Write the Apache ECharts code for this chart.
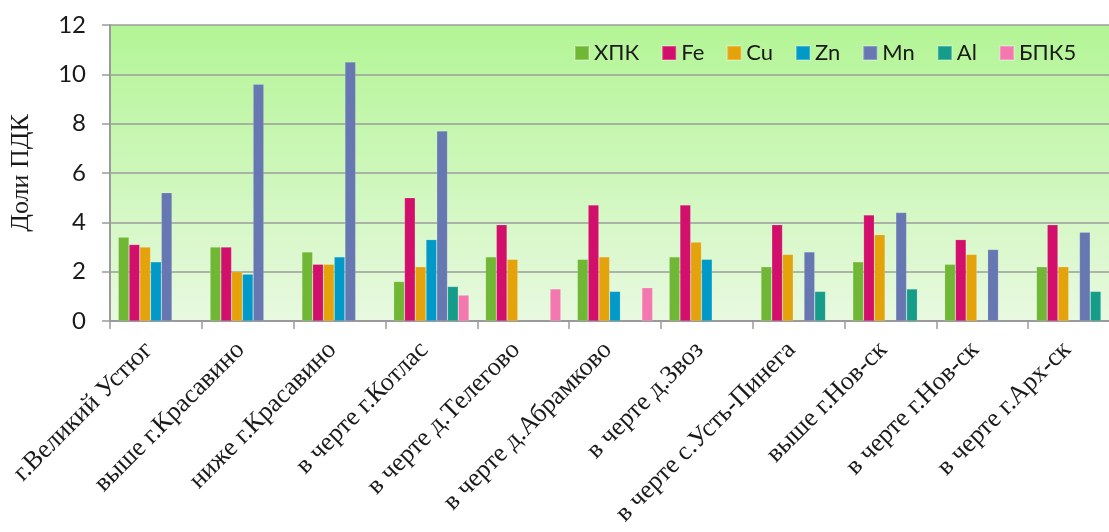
<!DOCTYPE html>
<html>
<head>
<meta charset="utf-8">
<script src="https://cdn.jsdelivr.net/npm/echarts@6/dist/echarts.min.js"></script>
<style>
  html, body { margin: 0; padding: 0; background: #ffffff; overflow: hidden; }
  body { width: 1109px; height: 532px; }
  /* the plot runs a little past the right edge of the page */
  #chart { width: 1130px; height: 532px; }
</style>
</head>
<body>
<div id="chart"></div>
<script>
// Sampling points along the river
const categories = [
  'г.Великий Устюг', 'выше г.Красавино', 'ниже г.Красавино', 'в черте г.Котлас',
  'в черте д.Телегово', 'в черте д.Абрамково', 'в черте д.Звоз', 'в черте с.Усть-Пинега',
  'выше г.Нов-ск', 'в черте г.Нов-ск', 'в черте г.Арх-ск'
];

// Concentrations in fractions of the maximum permissible level (null = not measured)
const hpk  = [3.4, 3.0, 2.8, 1.6, 2.6, 2.5, 2.6, 2.2, 2.4, 2.3, 2.2];
const fe   = [3.1, 3.0, 2.3, 5.0, 3.9, 4.7, 4.7, 3.9, 4.3, 3.3, 3.9];
const cu   = [3.0, 2.0, 2.3, 2.2, 2.5, 2.6, 3.2, 2.7, 3.5, 2.7, 2.2];
const zn   = [2.4, 1.9, 2.6, 3.3, null, 1.2, 2.5, null, null, null, null];
const mn   = [5.2, 9.6, 10.5, 7.7, null, null, null, 2.8, 4.4, 2.9, 3.6];
const al   = [null, null, null, 1.4, null, null, null, 1.2, 1.3, null, 1.2];
const bpk5 = [null, null, null, 1.05, 1.3, 1.35, null, null, null, null, null];

const yTicks = { min: 0, max: 12, interval: 2 };

const seriesDefs = [
  { name: 'ХПК', data: hpk,  color: '#6fb734' },
  { name: 'Fe',  data: fe,   color: '#d20f6a' },
  { name: 'Cu',  data: cu,   color: '#e4a20b' },
  { name: 'Zn',  data: zn,   color: '#0099c8' },
  { name: 'Mn',  data: mn,   color: '#6677b2' },
  { name: 'Al',  data: al,   color: '#169c8a' },
  { name: 'БПК5', data: bpk5, color: '#f477b0' }
];

const chart = echarts.init(document.getElementById('chart'), null, { renderer: 'canvas' });

const sansFont = 'Lato, "Open Sans", sans-serif';
const serifFont = '"Liberation Serif", "DejaVu Serif", serif';

chart.setOption({
  animation: false,
  backgroundColor: '#ffffff',
  grid: {
    left: 108, top: 25, width: 1012, height: 296,
    show: true,
    borderWidth: 0,
    borderColor: 'transparent',
    backgroundColor: new echarts.graphic.LinearGradient(0, 0, 0, 1, [
      { offset: 0, color: '#b3f595' },
      { offset: 1, color: '#e8f9e0' }
    ])
  },
  legend: {
    left: 569, top: 37,
    itemWidth: 14, itemHeight: 14, itemGap: 22,
    icon: 'rect',
    textStyle: { fontFamily: sansFont, fontSize: 22, color: '#1a1a1a' },
    data: seriesDefs.map(s => s.name)
  },
  xAxis: {
    type: 'category',
    data: categories,
    axisLine: { lineStyle: { color: '#9a9a9a', width: 2 } },
    axisTick: { show: true, length: 8, lineStyle: { color: '#9a9a9a', width: 1.5 } },
    splitLine: { show: false },
    axisLabel: {
      interval: 0, rotate: 45, margin: 18,
      padding: [0, 10, 0, 0],
      fontFamily: serifFont, fontSize: 26, color: '#1a1a1a'
    }
  },
  yAxis: {
    type: 'value',
    min: yTicks.min, max: yTicks.max, interval: yTicks.interval,
    name: 'Доли ПДК',
    nameLocation: 'middle',
    nameGap: 76,
    nameTextStyle: { fontFamily: serifFont, fontSize: 26, color: '#1a1a1a' },
    axisLine: { show: true, lineStyle: { color: '#9a9a9a', width: 2 } },
    axisTick: { show: true, length: 8, lineStyle: { color: '#9a9a9a', width: 1.5 } },
    axisLabel: { margin: 24, fontFamily: sansFont, fontSize: 24, color: '#1a1a1a' },
    splitLine: { lineStyle: { color: '#9c9c9c', width: 1.5 } }
  },
  series: seriesDefs.map(s => ({
    name: s.name,
    type: 'bar',
    data: s.data,
    barGap: '0%',
    barCategoryGap: '18%',
    itemStyle: { color: s.color, borderColor: 'rgba(255,255,255,0.25)', borderWidth: 0.6 }
  }))
});
</script>
</body>
</html>
